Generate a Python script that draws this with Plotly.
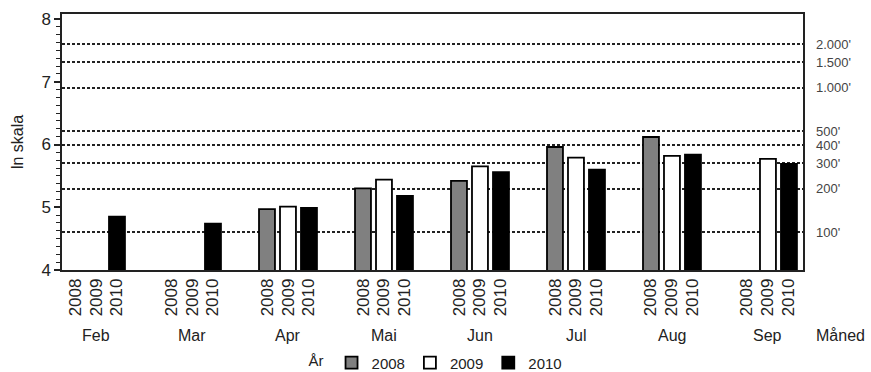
import math
import plotly.graph_objects as go

# Monthly values on natural-log scale, per year
months = ["Feb", "Mar", "Apr", "Mai", "Jun", "Jul", "Aug", "Sep"]
years = ["2008", "2009", "2010"]
vals_2008 = [None, None, 4.97, 5.30, 5.42, 5.96, 6.12, None]
vals_2009 = [None, None, 5.01, 5.44, 5.65, 5.79, 5.82, 5.77]
vals_2010 = [4.85, 4.74, 4.99, 5.18, 5.56, 5.60, 5.84, 5.69]

# Reference levels (thousands) shown as dotted lines on the right axis
ref_levels = [100, 200, 300, 400, 500, 1000, 1500, 2000]
ref_labels = ["100'", "200'", "300'", "400'", "500'", "1.000'", "1.500'", "2.000'"]

fills = ["#808080", "#ffffff", "#000000"]
series = [vals_2008, vals_2009, vals_2010]

FONT = "Liberation Sans, Arial, sans-serif"
BARGAP = 0.344
slot = (1 - BARGAP) / len(years)

x_idx = list(range(len(months)))

fig = go.Figure()
for name, vals, col in zip(years, series, fills):
    fig.add_trace(go.Bar(
        x=x_idx, y=vals, name=name,
        marker=dict(color=col, line=dict(color="#000000", width=1.8)),
    ))

# a hidden trace keeps yaxis2 active
fig.add_trace(go.Scatter(x=[None], y=[None], yaxis="y2", showlegend=False, hoverinfo="skip"))

# one tick per bar slot, labelled with the year
tickvals, ticktext = [], []
for i in x_idx:
    for k, yr in enumerate(years):
        tickvals.append(i + (k - 1) * slot)
        ticktext.append(yr)

yrange = [4, 8.08]

fig.update_layout(
    width=871, height=372,
    margin=dict(l=62, r=68, t=14, b=102, autoexpand=False),
    paper_bgcolor="white", plot_bgcolor="white",
    font=dict(family=FONT, size=16, color="#222222"),
    barmode="group", bargap=BARGAP, bargroupgap=0.24,
    xaxis=dict(
        range=[-0.354, 7.365], automargin=False,
        tickmode="array", tickvals=tickvals, ticktext=ticktext,
        tickangle=-90, ticks="", showgrid=False, zeroline=False,
        showline=True, linecolor="#222222", linewidth=1.5, mirror=True,
        tickfont=dict(size=17), ticklabelstandoff=0,
    ),
    yaxis=dict(
        range=yrange, dtick=1, tick0=4, automargin=False,
        ticks="outside", ticklen=6, tickwidth=1.5, tickcolor="#222222",
        minor=dict(dtick=0.125, ticks="outside", ticklen=4, tickcolor="#222222", tickwidth=1.2),
        showline=True, linecolor="#222222", linewidth=1.5, mirror=True,
        showgrid=False, zeroline=False, tickfont=dict(size=17),
        title=dict(text="ln skala", standoff=14, font=dict(size=16)),
    ),
    yaxis2=dict(
        overlaying="y", side="right", range=yrange, automargin=False,
        tickmode="array",
        tickvals=[math.log(v) for v in ref_levels], ticktext=ref_labels,
        ticks="", showline=False, zeroline=False,
        showgrid=True, gridcolor="#222222", gridwidth=1.6, griddash="3px,2px",
        tickfont=dict(size=13, color="#444444"), ticklabelstandoff=12,
    ),
    legend=dict(
        orientation="h", x=0.330, xanchor="left", y=-0.363, yanchor="middle",
        title=dict(text="År", side="left", font=dict(size=15)),
        font=dict(size=15), itemwidth=30, traceorder="normal",
        entrywidth=0, tracegroupgap=0,
    ),
)

# month labels under each bar group
for i, m in enumerate(months):
    fig.add_annotation(x=i, y=-0.254, xref="x", yref="paper", text=m,
                       showarrow=False, xanchor="center", yanchor="middle",
                       font=dict(size=16))
fig.add_annotation(x=1.05, y=-0.254, xref="paper", yref="paper", text="Måned",
                   showarrow=False, xanchor="center", yanchor="middle",
                   font=dict(size=16))

fig.write_html("out.html")
